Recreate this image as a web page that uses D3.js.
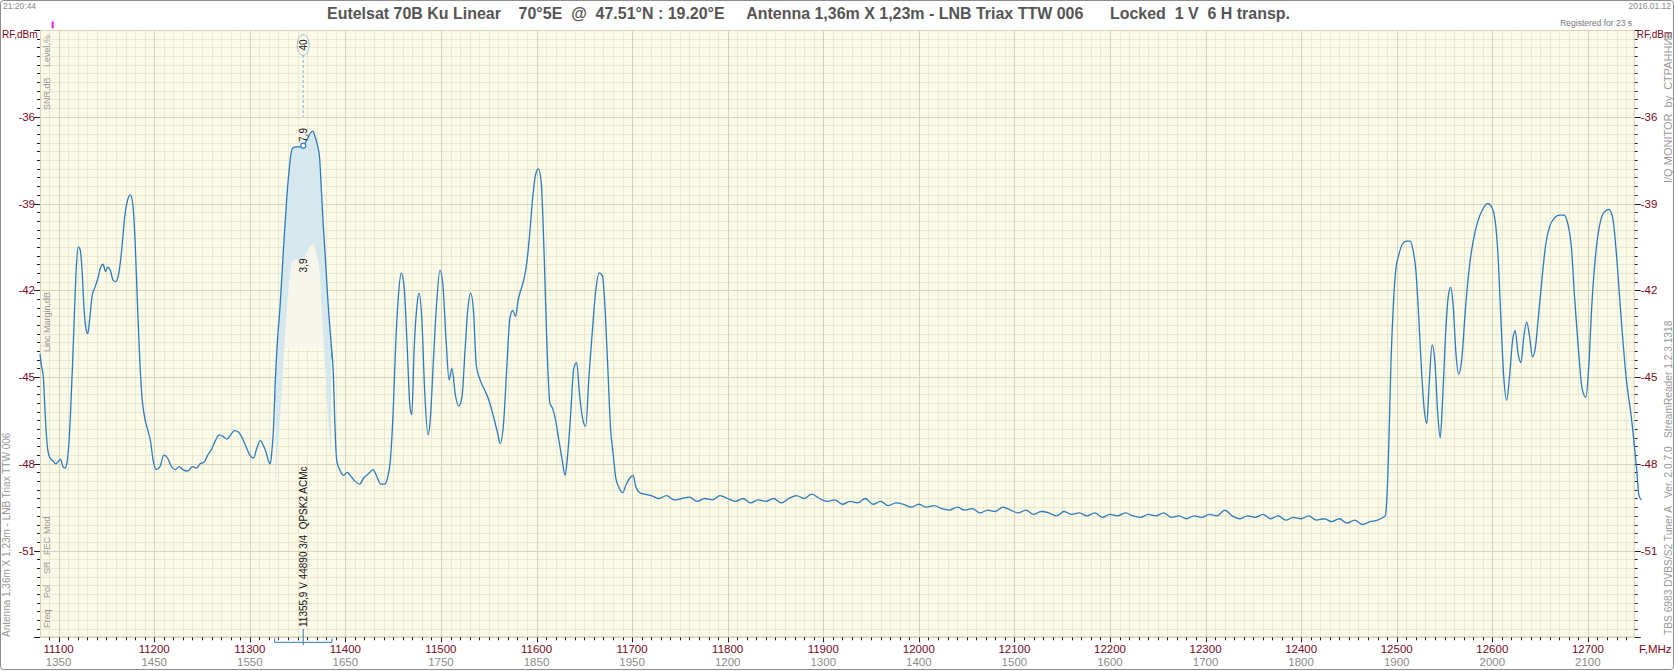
<!DOCTYPE html>
<html><head><meta charset="utf-8">
<script src="https://cdn.jsdelivr.net/npm/d3@7/dist/d3.min.js"></script>
<style>
body{margin:0;background:#fff}
svg{display:block}
text{font-family:"Liberation Sans",Arial,sans-serif;white-space:pre}
</style></head><body>
<svg id="c" width="1674" height="671"></svg>
<script>
// ---------- data ----------
const titleText = "Eutelsat 70B Ku Linear    70°5E  @  47.51°N : 19.20°E     Antenna 1,36m X 1,23m - LNB Triax TTW 006      Locked  1 V  6 H transp.";
const xTicks = [11100,11200,11300,11400,11500,11600,11700,11800,11900,12000,12100,12200,12300,12400,12500,12600,12700];
const ifTicks = [1350,1450,1550,1650,1750,1850,1950,1200,1300,1400,1500,1600,1700,1800,1900,2000,2100];
const yTicks = [-36,-39,-42,-45,-48,-51];
const xDomain = [11080.5, 12749];
const yDomain = [-54, -33];

const traceFreq = [
11080.5,11082,11084,11085.5,11087,11089,11091,11094,11097,11100,11102,11104.5,11106.5,11108.5,11110.5,11112.5,11114.5,11116.5,11118.5,11120.5,
11122.5,11124.5,11126.5,11128.5,11130.5,11132.5,11135,11138,11141,11144,11146.5,11149,11151.5,11154,11157,11160,11163,11166,11169,11172,
11175,11177.5,11180,11182.5,11185,11187.5,11190,11193,11196,11199,11202,11206,11210,11214,11218,11222,11226,11230,11235,11240,
11244,11248,11252,11256,11260,11264,11268,11272,11276,11280,11284,11288,11292,11296,11300,11304,11307,11311,11314,11317,
11319.5,11321.5,11323,11324.6,11327,11329,11331.6,11335,11338.7,11341,11343,11345,11348,11352,11356,11359,11362,11365.8,11368,11370.5,
11373,11375,11377,11378.7,11382,11385,11387.4,11389,11391,11394,11398,11402,11405,11410,11415,
11419,11424,11429,11433,11437,11441,11444,11447,11450,11452.5,11455.5,11458.5,11461.5,11464.5,11467.5,11469.5,11472,11475,11477,11480,
11483,11486.5,11489,11492,11495,11499,11502,11505.5,11508.5,11511.5,11515,11518.5,11522,11525,11528,11531,11534,11537,11541,11545,
11549,11552,11556,11559,11562,11565.5,11569,11572,11575,11578,11581,11583.5,11587,11590,11593,11596,11599,11602,11605,11608,
11611,11614,11617,11620,11623,11626.5,11630,11632,11635.5,11639,11642,11645,11648,11651.5,11655,11658,11662,11665.5,11669,11672,
11675,11677.5,11680,11683,11686,11690,11694,11697.5,11701,11704,11708,11713,
11720,11728,11736,11744,11752,11760,11768,11776,11784,11792,11800,11808,11816,11824,11832,11840,11848,11856,11864,11872,
11880,11888,11896,11904,11912,11920,11928,11936,11944,11952,11960,11968,11976,11984,11992,12000,12008,12016,12024,12032,
12040,12048,12056,12064,12072,12080,12088,12096,12104,12112,12120,12128,12136,12144,12152,12160,12168,12176,12184,12192,
12200,12208,12216,12224,12232,12240,12248,12256,12264,12272,12280,12288,12296,12304,12312,12320,12328,12336,12344,12352,
12360,12368,12376,12384,12392,12400,12408,12416,12424,12432,12440,12448,12456,12464,12472,12480,12486,12488,
12490,12492,12494,12496.5,12499,12502,12506,12510,12514,12517,12520,12523,12526,12529,12531.5,12534,12537,12540,12543,12545.5,
12548,12551,12554,12556.5,12559,12562,12565,12568,12572,12576,12580,12585,12590,12595,12599,12603,12606,12609,12612,12615,
12618,12621,12624,12627,12630,12633,12636,12639,12642,12645,12648,12652,12656,12660,12665,12670,12675,12679,12683,12686,
12690,12694,12698,12701,12704,12708,12712,12717,12722,12726,12730,12734,12740,12745.5,12750.8,12753.5,12756
];
const traceLevel = [
-44.2,-44.6,-45.0,-46.0,-46.9,-47.6,-47.8,-47.9,-48.0,-47.9,-47.85,-48.1,-48.15,-48.0,-47.4,-46.2,-44.6,-42.8,-41.2,-40.5,
-40.6,-41.3,-42.6,-43.3,-43.5,-43.0,-42.2,-41.9,-41.6,-41.2,-41.1,-41.35,-41.2,-41.3,-41.65,-41.7,-41.4,-40.6,-39.5,-38.9,
-38.7,-39.0,-40.3,-42.5,-44.5,-45.8,-46.4,-46.8,-47.2,-47.9,-48.2,-48.1,-47.7,-47.8,-48.1,-48.2,-48.1,-48.2,-48.25,-48.1,
-48.15,-48.0,-47.95,-47.7,-47.5,-47.2,-47.0,-47.05,-47.15,-47.0,-46.85,-46.9,-47.1,-47.4,-47.7,-47.8,-47.5,-47.2,-47.35,-47.6,
-47.9,-48.0,-47.6,-46.9,-44.9,-43.7,-42.6,-40.7,-38.8,-37.9,-37.3,-37.08,-37.04,-37.04,-37.0,-36.85,-36.65,-36.5,-36.65,-36.95,
-37.4,-38.6,-39.8,-40.7,-42.5,-43.8,-44.9,-46.6,-47.9,-48.2,-48.4,-48.3,-48.4,-48.6,-48.7,
-48.5,-48.35,-48.2,-48.45,-48.7,-48.7,-48.5,-47.9,-46.2,-44.0,-42.2,-41.4,-41.9,-43.8,-46.0,-46.3,-44.0,-42.5,-42.1,-43.0,
-45.5,-47.0,-46.4,-44.5,-42.7,-41.3,-41.8,-43.8,-45.1,-44.7,-45.6,-46.0,-45.7,-44.2,-42.7,-42.1,-42.7,-44.6,-45.1,-45.4,
-45.7,-46.0,-46.5,-46.9,-47.3,-46.6,-44.6,-43.0,-42.7,-42.9,-42.3,-42.0,-41.6,-41.0,-40.0,-38.8,-38.0,-37.8,-38.3,-40.8,
-44.0,-45.9,-46.1,-46.5,-47.1,-47.8,-48.4,-47.9,-46.4,-44.7,-44.5,-45.6,-46.4,-46.7,-44.9,-43.6,-42.0,-41.4,-41.5,-42.8,
-45.0,-46.8,-47.6,-48.5,-48.8,-49.0,-48.7,-48.5,-48.4,-48.8,-49.0,-49.05,
-49.1,-49.2,-49.1,-49.25,-49.2,-49.15,-49.3,-49.2,-49.25,-49.1,-49.2,-49.3,-49.2,-49.35,-49.25,-49.3,-49.2,-49.35,-49.2,-49.1,
-49.2,-49.05,-49.2,-49.3,-49.25,-49.4,-49.3,-49.35,-49.2,-49.4,-49.3,-49.45,-49.35,-49.4,-49.5,-49.4,-49.5,-49.45,-49.55,-49.6,
-49.5,-49.6,-49.55,-49.7,-49.6,-49.65,-49.5,-49.6,-49.7,-49.6,-49.75,-49.65,-49.7,-49.8,-49.65,-49.75,-49.7,-49.8,-49.7,-49.85,
-49.75,-49.8,-49.7,-49.8,-49.85,-49.75,-49.8,-49.7,-49.85,-49.8,-49.9,-49.8,-49.85,-49.75,-49.8,-49.6,-49.8,-49.9,-49.8,-49.85,
-49.75,-49.9,-49.8,-49.95,-49.85,-49.9,-49.8,-49.95,-49.9,-50.0,-49.9,-50.05,-49.95,-50.1,-50.0,-49.95,-49.85,-49.8,
-49.0,-47.0,-44.5,-42.5,-41.3,-40.8,-40.4,-40.3,-40.3,-40.6,-41.3,-42.9,-44.8,-46.2,-46.6,-45.2,-43.9,-44.5,-46.3,-47.1,
-45.8,-43.6,-42.2,-41.9,-42.5,-44.2,-44.9,-44.4,-42.6,-41.2,-40.3,-39.6,-39.2,-39.0,-39.1,-39.6,-40.8,-43.0,-45.0,-45.8,
-45.0,-43.8,-43.4,-44.2,-44.5,-43.6,-43.1,-43.6,-44.3,-44.0,-43.0,-41.6,-40.4,-39.8,-39.5,-39.4,-39.4,-39.7,-40.6,-42.2,
-44.0,-45.4,-45.7,-44.6,-42.6,-40.8,-39.8,-39.3,-39.2,-39.5,-40.8,-42.6,-45.0,-46.4,-48.1,-49.1,-49.25
];

// locked transponder marker
const markFreq = 11355.9;
const markBand = [11326, 11386];
const markSnr = 3.9;
const markLabels = {top:"40", level:"7,9", snr:"3,9", info:"11355,9 V 44890 3/4  QPSK2 ACMc"};

// ---------- drawing ----------
const W = 1674, H = 671;
const svg = d3.select("#c");
const x = d3.scaleLinear().domain(xDomain).range([40, 1634.7]);
const y = d3.scaleLinear().domain(yDomain).range([637.3, 30]);
const L = x.range()[0], R = x.range()[1], T = y.range()[1], B = y.range()[0];
const maroon = "#7a0a1e", blue = "#2c7cbb";
const bg = "#fbf9e8", minorC = "#ebe7d0", majorC = "#d7d2b8";

svg.append("rect").attr("width", W).attr("height", H).attr("fill", "#fff");
svg.append("rect").attr("x", 0.5).attr("y", 0.5).attr("width", W - 1).attr("height", H - 2)
  .attr("rx", 3).attr("fill", "none").attr("stroke", "#8c8c8c");

// plot background
svg.append("rect").attr("x", L).attr("y", T).attr("width", R - L).attr("height", B - T).attr("fill", bg);

// grid
const vGrid = d3.range(11090, 12750, 10);
const hGrid = d3.range(0, 71).map(i => ({i, v: yDomain[0] + i * 0.3}));
const grid = svg.append("g");
grid.selectAll(".vm").data(vGrid.filter(f => f % 100 !== 0)).join("line")
  .attr("x1", d => Math.round(x(d)) + 0.5).attr("x2", d => Math.round(x(d)) + 0.5)
  .attr("y1", T).attr("y2", B).attr("stroke", minorC);
grid.selectAll(".hm").data(hGrid.filter(d => d.i % 10 !== 0)).join("line")
  .attr("y1", d => Math.round(y(d.v)) + 0.5).attr("y2", d => Math.round(y(d.v)) + 0.5)
  .attr("x1", L).attr("x2", R).attr("stroke", minorC);
grid.selectAll(".vM").data(vGrid.filter(f => f % 100 === 0)).join("line")
  .attr("x1", d => Math.round(x(d)) + 0.5).attr("x2", d => Math.round(x(d)) + 0.5)
  .attr("y1", T).attr("y2", B).attr("stroke", majorC);
grid.selectAll(".hM").data(hGrid.filter(d => d.i % 10 === 0)).join("line")
  .attr("y1", d => Math.round(y(d.v)) + 0.5).attr("y2", d => Math.round(y(d.v)) + 0.5)
  .attr("x1", L).attr("x2", R).attr("stroke", majorC);
svg.append("rect").attr("x", L + 0.5).attr("y", T + 0.5).attr("width", R - L - 1).attr("height", B - T - 1)
  .attr("fill", "none").attr("stroke", majorC);

// axis ticks
const ax = svg.append("g").attr("stroke", "#222");
hGrid.forEach(d => {
  const yy = Math.round(y(d.v)) + 0.5, len = d.i % 10 === 0 ? 6 : 3;
  ax.append("line").attr("x1", L - len).attr("x2", L).attr("y1", yy).attr("y2", yy);
  ax.append("line").attr("x1", R).attr("x2", R + len).attr("y1", yy).attr("y2", yy);
});
vGrid.forEach(f => {
  const xx = Math.round(x(f)) + 0.5, len = f % 100 === 0 ? 5 : 3;
  ax.append("line").attr("x1", xx).attr("x2", xx).attr("y1", B).attr("y2", B + len);
});

// tick labels
svg.selectAll(".yl").data(yTicks).join("text").attr("x", 35).attr("y", d => y(d) + 4)
  .attr("text-anchor", "end").attr("font-size", 11.5).attr("fill", maroon).text(d => d);
svg.selectAll(".yr").data(yTicks).join("text").attr("x", R + 6).attr("y", d => y(d) + 4)
  .attr("text-anchor", "start").attr("font-size", 11.5).attr("fill", maroon).text(d => d);
svg.selectAll(".xl").data(xTicks).join("text").attr("x", d => x(d)).attr("y", 653)
  .attr("text-anchor", "middle").attr("font-size", 11.5).attr("fill", maroon).text(d => d);
svg.selectAll(".xi").data(xTicks).join("text").attr("x", d => x(d)).attr("y", 666)
  .attr("text-anchor", "middle").attr("font-size", 11.5).attr("fill", "#8c8c8c").text((d, i) => ifTicks[i]);

svg.append("text").attr("x", 2).attr("y", 38).attr("font-size", 10).attr("fill", maroon).text("RF,dBm");
svg.append("text").attr("x", R + 2).attr("y", 38).attr("font-size", 10).attr("fill", maroon).text("RF,dBm");
svg.append("text").attr("x", 1639).attr("y", 653).attr("font-size", 11.5).attr("fill", maroon).text("F,MHz");

// title and small texts
svg.append("text").attr("x", 327).attr("y", 19).attr("font-size", 17).attr("font-weight", "bold")
  .attr("fill", "#555").attr("textLength", 963).attr("lengthAdjust", "spacingAndGlyphs").text(titleText);
svg.append("text").attr("x", 3).attr("y", 9).attr("font-size", 8.5).attr("fill", "#888").text("21:20:44");
svg.append("text").attr("x", 1671).attr("y", 9).attr("text-anchor", "end").attr("font-size", 8.5).attr("fill", "#888").text("2016.01.12");
svg.append("text").attr("x", 1632).attr("y", 26).attr("text-anchor", "end").attr("font-size", 8.5).attr("fill", "#777").text("Registered for 23 s");
svg.append("rect").attr("x", 51.7).attr("y", 21.5).attr("width", 2).attr("height", 7).attr("fill", "#e01ee0");

// rotated texts
function vtext(xc, yBottom, str, size, color) {
  svg.append("text").attr("transform", `translate(${xc},${yBottom}) rotate(-90)`)
    .attr("dominant-baseline", "central").attr("font-size", size).attr("fill", color).text(str);
}
vtext(6.5, 637, "Antenna 1,36m X 1,23m - LNB Triax TTW 006", 10, "#999");
vtext(1668, 183, "I/Q MONITOR  by  СТРАННИК", 11, "#999");
vtext(1668, 635, "TBS 6983 DVBS/S2 Tuner A   Ver. 2.0.7.0   StreamReader 1.2.3.1318", 10.2, "#999");
const sideLabels = [["Level,%", 67], ["SNR,dB", 110], ["Linc Margin,dB", 352], ["Mod", 534], ["FEC", 555], ["SR", 574], ["Pol", 598], ["Freq", 628]];
sideLabels.forEach(d => vtext(47, d[1], d[0], 9, "#999"));

// trace data
const pts = traceFreq.map((f, i) => [f, traceLevel[i]]);
const band = pts.filter(p => p[0] >= markBand[0] && p[0] <= markBand[1]);

// fills for locked transponder
svg.append("path").datum(band)
  .attr("d", d3.area().x(d => x(d[0])).y0(d => y(Math.max(-44, d[1] - 8))).y1(d => y(d[1])).curve(d3.curveMonotoneX))
  .attr("fill", "#f6f6ec");
svg.append("path").datum(band)
  .attr("d", d3.area().x(d => x(d[0])).y0(d => y(d[1] - markSnr)).y1(d => y(d[1])).curve(d3.curveMonotoneX))
  .attr("fill", "#d6e8ee");

// trace
svg.append("path").datum(pts)
  .attr("d", d3.line().x(d => x(d[0])).y(d => y(d[1])).curve(d3.curveMonotoneX))
  .attr("fill", "none").attr("stroke", blue).attr("stroke-width", 1.3);

// marker
const mx = x(markFreq);
const lvlAt = f => { const i = d3.bisector(d => d[0]).left(pts, f); const a = pts[i - 1], b = pts[i]; return a[1] + (b[1] - a[1]) * (f - a[0]) / (b[0] - a[0]); };
svg.append("line").attr("x1", mx).attr("x2", mx).attr("y1", 55).attr("y2", y(-36))
  .attr("stroke", "#86b2d4").attr("stroke-dasharray", "3,2");
svg.append("ellipse").attr("cx", mx).attr("cy", 45).attr("rx", 6).attr("ry", 10.5)
  .attr("fill", bg).attr("stroke", "#9cc0dc");
svg.append("text").attr("transform", `translate(${mx},45) rotate(-90)`).attr("text-anchor", "middle")
  .attr("dominant-baseline", "central").attr("font-size", 10).attr("fill", "#111").text(markLabels.top);
svg.append("text").attr("transform", `translate(${mx},135) rotate(-90)`).attr("text-anchor", "middle")
  .attr("dominant-baseline", "central").attr("font-size", 10).attr("fill", "#111").text(markLabels.level);
svg.append("circle").attr("cx", mx).attr("cy", y(lvlAt(markFreq))).attr("r", 2.5)
  .attr("fill", "#fff").attr("stroke", blue).attr("stroke-width", 1.2);
svg.append("text").attr("transform", `translate(${mx},${y(lvlAt(markFreq) - markSnr) + 7}) rotate(-90)`).attr("text-anchor", "middle")
  .attr("dominant-baseline", "central").attr("font-size", 10).attr("fill", "#111").text(markLabels.snr);
markBand.forEach(f => {
  const yy = y(lvlAt(f));
  svg.append("line").attr("x1", x(f)).attr("x2", x(f)).attr("y1", yy - 3).attr("y2", yy + 3).attr("stroke", blue);
});
vtext(mx, 627, markLabels.info, 10, "#111");
// bracket below axis
svg.append("path").attr("d", `M${x(markBand[0])},${B + 1}V${B + 5}H${x(markBand[1])}V${B + 1}`)
  .attr("fill", "none").attr("stroke", blue);
svg.append("line").attr("x1", mx).attr("x2", mx).attr("y1", 629).attr("y2", B + 8).attr("stroke", blue);
</script>
</body></html>
